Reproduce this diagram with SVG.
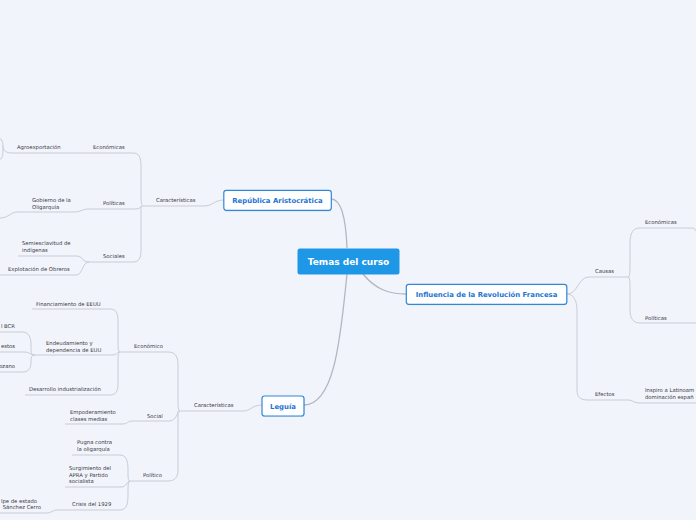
<svg xmlns="http://www.w3.org/2000/svg" width="696" height="520" viewBox="0 0 696 520">
<style>
.bg{fill:#f2f4fc}
.c{fill:none;stroke:#c9ccd5;stroke-width:1}
.m{fill:none;stroke:#b3b6c0;stroke-width:1.3}
.t{font-family:"DejaVu Sans",Verdana,sans-serif;font-size:5.3px;fill:#38393e}
.nb{fill:#ffffff;stroke:#2e88dc;stroke-width:1.2}
.sh{fill:#000;opacity:0.10}
.nt{font-family:"DejaVu Sans",Verdana,sans-serif;font-size:6.9px;font-weight:bold;fill:#1d74d2;text-anchor:middle}
.ct{font-family:"DejaVu Sans",Verdana,sans-serif;font-size:9px;font-weight:bold;fill:#ffffff;text-anchor:middle}
</style>
<rect class="bg" x="0" y="0" width="696" height="520"/>
<g id="connectors">
<path class="m" d="M331,199 C342,199 346,222 347,248"/>
<path class="m" d="M347,274 C341,330 336,405 304,405"/>
<path class="m" d="M363,274 C376,290 390,294 406,294"/>
<path class="c" d="M224,200 C214,200 213,206 204,206 L143,206"/>
<path class="c" d="M143,206 C141,206 141,200 141,190 L141,166 C141,157 139,153 133,153 L13,153"/>
<path class="c" d="M13,153 C6,153 3,151 3,146 C3,141 1,138 -3,137"/>
<path class="c" d="M3,146 L3,152 C3,157 1,160 -3,161"/>
<path class="c" d="M143,206 C141,206 141,209 134,209 L89,209 C82,209 81,212 74,212 L18,212 C10,212 9,218 0,218"/>
<path class="c" d="M141,206 L141,250 C141,258 139,262 133,262 L89,262"/>
<path class="c" d="M89,262 C82,262 83,256 76,256 L18,256"/>
<path class="c" d="M89,262 C82,262 83,275 76,275 L0,275"/>
<path class="c" d="M262,405 C252,405 251,411 243,411 L180,411"/>
<path class="c" d="M180,411 C178,411 178,406 178,398 L178,365 C178,356 175,352 168,352 L120,352"/>
<path class="c" d="M178,411 L178,470 C178,477 175,481 168,481 L130,481"/>
<path class="c" d="M180,411 C177,411 177,421 169,421 L133,421 C127,421 128,424 122,424 L65,424"/>
<path class="c" d="M120,352 C118,352 118,348 118,340 L118,321 C118,313 116,309 110,309 L32,309"/>
<path class="c" d="M120,352 C118,352 118,356 118,363 L118,384 C118,391 116,395 110,395 L25,395"/>
<path class="c" d="M120,352 C117,352 117,355 112,355 L42,355"/>
<path class="c" d="M42,355 L35,355 C31,355 31,352 31,345 C31,336 28,332 22,332 L0,332"/>
<path class="c" d="M35,355 C30,355 30,352 24,352 L0,352"/>
<path class="c" d="M35,355 C31,355 31,358 31,363 C31,369 28,372 22,372 L0,372"/>
<path class="c" d="M130,481 C128,481 128,478 128,470 C128,460 126,455 120,455 L72,455"/>
<path class="c" d="M130,481 C127,481 127,487 121,487 L65,487"/>
<path class="c" d="M130,481 C128,481 128,485 128,495 C128,505 126,510 120,510 L58,510 C52,510 52,513 46,513 L0,513"/>
<path class="c" d="M567,294 C578,294 578,277 589,277 L628,277"/>
<path class="c" d="M628,277 C630,277 630,272 630,262 L630,243 C630,233 633,228 640,228 L692,228 C695,228 697,231 697,235"/>
<path class="c" d="M628,277 C630,277 630,282 630,292 L630,310 C630,318 633,323 640,323 L700,323"/>
<path class="c" d="M567,294 C573,294 577,300 577,310 L577,390 C577,397 580,400 588,400 L628,400 C633,400 633,403 640,403 L700,403"/>
</g>
<g id="n-root">
<rect x="297.5" y="248.5" width="102" height="26" rx="2.5" fill="#1e97e6"/>
<text class="ct" x="348.5" y="264.8">Temas del curso</text>
</g>
<g id="n-republica">
<rect class="sh" x="224.5" y="191.5" width="107" height="20" rx="2.5"/>
<rect class="nb" x="223.8" y="190.3" width="107.5" height="20" rx="2.5"/>
<text class="nt" x="277.5" y="202.8">República Aristocrática</text>
</g>
<g id="n-leguia">
<rect class="sh" x="262.5" y="397" width="42" height="20" rx="2.5"/>
<rect class="nb" x="262" y="396" width="42" height="20" rx="2.5"/>
<text class="nt" x="283" y="408.5">Leguía</text>
</g>
<g id="n-influencia">
<rect class="sh" x="406.8" y="285.3" width="160.5" height="20" rx="2.5"/>
<rect class="nb" x="406.3" y="284.3" width="160.5" height="20" rx="2.5"/>
<text class="nt" x="486.5" y="296.8">Influencia de la Revolución Francesa</text>
</g>
<g id="n-rep-car"><text class="t" x="156" y="201.9">Características</text></g>
<g id="n-rep-eco"><text class="t" x="93" y="148.9">Económicas</text></g>
<g id="n-agro"><text class="t" x="17" y="148.9">Agroexportación</text></g>
<g id="n-rep-pol"><text class="t" x="103" y="204.6">Políticas</text></g>
<g id="n-gob"><text class="t" x="32" y="201.9">Gobierno de la</text><text class="t" x="32" y="208.9">Oligarquía</text></g>
<g id="n-rep-soc"><text class="t" x="103" y="257.9">Sociales</text></g>
<g id="n-semi"><text class="t" x="22" y="244.9">Semiesclavitud de</text><text class="t" x="22" y="251.9">indígenas</text></g>
<g id="n-explo"><text class="t" x="8" y="270.9">Explotación de Obreros</text></g>
<g id="n-leg-car"><text class="t" x="194" y="406.9">Características</text></g>
<g id="n-leg-eco"><text class="t" x="134" y="347.9">Económico</text></g>
<g id="n-leg-soc"><text class="t" x="147" y="417.9">Social</text></g>
<g id="n-leg-pol"><text class="t" x="143" y="476.9">Político</text></g>
<g id="n-fin"><text class="t" x="36" y="305.9">Financiamiento de EEUU</text></g>
<g id="n-end"><text class="t" x="46" y="344.9">Endeudamiento y</text><text class="t" x="46" y="351.9">dependencia de EUU</text></g>
<g id="n-des"><text class="t" x="29" y="390.9">Desarrollo industrialización</text></g>
<g id="n-bcr"><text class="t" x="15" y="327.9" text-anchor="end">l BCR</text></g>
<g id="n-estos"><text class="t" x="15" y="348.4" text-anchor="end">estos</text></g>
<g id="n-ozano"><text class="t" x="15" y="367.9" text-anchor="end">ozano</text></g>
<g id="n-emp"><text class="t" x="70" y="413.9">Empoderamiento</text><text class="t" x="70" y="420.9">clases medias</text></g>
<g id="n-pugna"><text class="t" x="77" y="443.6">Pugna contra</text><text class="t" x="77" y="450.9">la oligarquía</text></g>
<g id="n-surg"><text class="t" x="69" y="469.6">Surgimiento del</text><text class="t" x="69" y="476.9">APRA y Partido</text><text class="t" x="69" y="483.1">socialista</text></g>
<g id="n-crisis"><text class="t" x="72" y="505.9">Crisis del 1929</text></g>
<g id="n-golpe"><text class="t" x="37" y="502.7" text-anchor="end">lpe de estado</text><text class="t" x="41" y="508.9" text-anchor="end">Sánchez Cerro</text></g>
<g id="n-causas"><text class="t" x="595" y="272.7">Causas</text></g>
<g id="n-r-eco"><text class="t" x="645" y="223.9">Económicas</text></g>
<g id="n-r-pol"><text class="t" x="645" y="319.9">Políticas</text></g>
<g id="n-efectos"><text class="t" x="595" y="395.9">Efectos</text></g>
<g id="n-inspiro"><text class="t" x="645" y="391.9">Inspiro a Latinoam</text><text class="t" x="645" y="398.9">dominación españ</text></g>
</svg>
